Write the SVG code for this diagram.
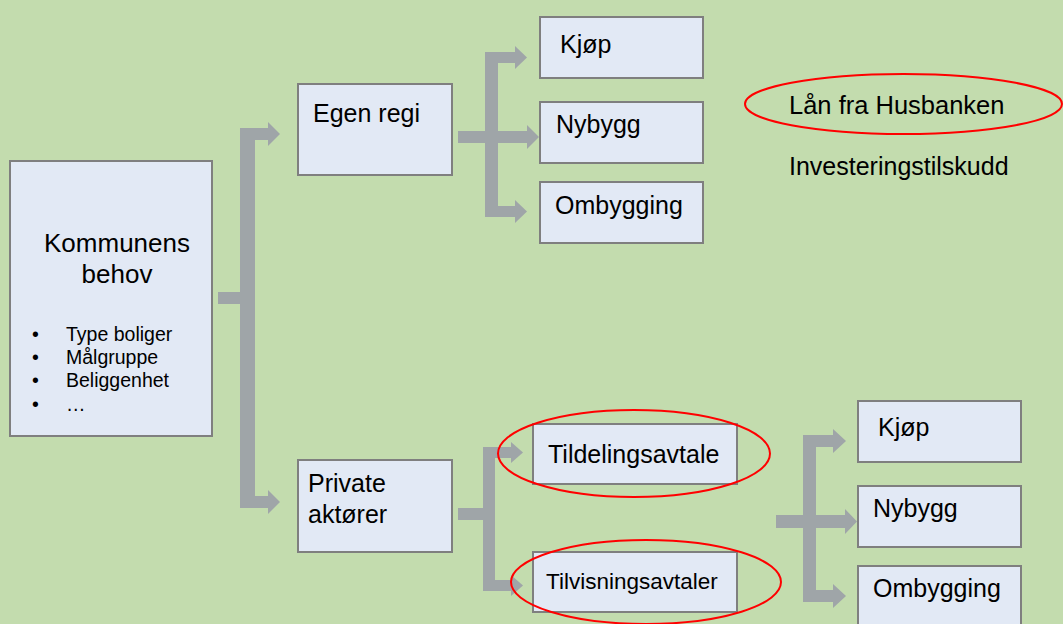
<svg xmlns="http://www.w3.org/2000/svg" width="1063" height="624" viewBox="0 0 1063 624">
  <style>
    .bg { fill: #c3dcae; }
    .box { fill: #e2e9f5; stroke: #7f7f7f; stroke-width: 2; }
    .t { font-family: "Liberation Sans", Arial, sans-serif; fill: #000000; }
    .big { font-size: 25px; }
    .small { font-size: 19.5px; }
    .conn { fill: #9fa5a8; stroke: none; }
    .ring { fill: none; stroke: #ff0000; stroke-width: 2; }
  </style>
  <rect class="bg" x="0" y="0" width="1063" height="624"/>

  <g id="connectors">
    <!-- main -->
    <rect class="conn" x="218" y="292" width="23" height="12"/>
    <rect class="conn" x="240" y="128" width="15" height="380"/>
    <rect class="conn" x="254" y="128" width="15" height="12"/>
    <polygon class="conn" points="268,122 280,134 268,146"/>
    <rect class="conn" x="254" y="496" width="15" height="12"/>
    <polygon class="conn" points="268,490 280,502 268,514"/>
    <!-- egen regi -->
    <rect class="conn" x="458" y="131" width="28" height="12"/>
    <rect class="conn" x="485" y="52" width="13" height="165"/>
    <rect class="conn" x="497" y="52" width="19" height="11"/>
    <polygon class="conn" points="515,46 527,57.5 515,69"/>
    <rect class="conn" x="497" y="131" width="31" height="12"/>
    <polygon class="conn" points="527,125 539,137 527,149"/>
    <rect class="conn" x="497" y="206" width="19" height="11"/>
    <polygon class="conn" points="515,200 527,211.5 515,223"/>
    <!-- private -->
    <rect class="conn" x="458" y="508" width="26" height="12"/>
    <rect class="conn" x="483" y="447" width="12" height="144"/>
    <rect class="conn" x="494" y="447" width="18" height="11"/>
    <polygon class="conn" points="511,442 523,452.5 511,463"/>
    <rect class="conn" x="494" y="580" width="18" height="11"/>
    <polygon class="conn" points="511,575 523,585.5 511,596"/>
    <!-- lower right -->
    <rect class="conn" x="776" y="515" width="28" height="13"/>
    <rect class="conn" x="803" y="435" width="13" height="167"/>
    <rect class="conn" x="815" y="435" width="19" height="12"/>
    <polygon class="conn" points="833,429 846,441 833,453"/>
    <rect class="conn" x="815" y="515" width="31" height="13"/>
    <polygon class="conn" points="845,509 857,521.5 845,534"/>
    <rect class="conn" x="815" y="590" width="19" height="12"/>
    <polygon class="conn" points="833,584 846,596 833,608"/>
  </g>

  <g id="kommunens">
    <rect class="box" x="10" y="161" width="202" height="275"/>
    <text class="t big" x="117" y="252" text-anchor="middle" style="font-size:26px">Kommunens</text>
    <text class="t big" x="117" y="283" text-anchor="middle" style="font-size:26px">behov</text>
    <text class="t small" x="32" y="341">•</text>
    <text class="t small" x="66" y="341">Type boliger</text>
    <text class="t small" x="32" y="364">•</text>
    <text class="t small" x="66" y="364">Målgruppe</text>
    <text class="t small" x="32" y="387">•</text>
    <text class="t small" x="66" y="387">Beliggenhet</text>
    <text class="t small" x="32" y="411">•</text>
    <text class="t small" x="66" y="411">…</text>
  </g>

  <g id="egen-regi">
    <rect class="box" x="298" y="84" width="154" height="91"/>
    <text class="t big" x="313" y="122">Egen regi</text>
  </g>

  <g id="private">
    <rect class="box" x="298" y="460" width="154" height="92"/>
    <text class="t big" x="308" y="492">Private</text>
    <text class="t big" x="308" y="523">aktører</text>
  </g>

  <g id="kjop1">
    <rect class="box" x="540" y="17" width="163" height="61"/>
    <text class="t big" x="560" y="53">Kjøp</text>
  </g>
  <g id="nybygg1">
    <rect class="box" x="540" y="102" width="163" height="61"/>
    <text class="t big" x="556" y="133">Nybygg</text>
  </g>
  <g id="ombygging1">
    <rect class="box" x="540" y="182" width="163" height="61"/>
    <text class="t big" x="555" y="214">Ombygging</text>
  </g>

  <g id="husbanken">
    <ellipse class="ring" cx="903.5" cy="104" rx="158.5" ry="30"/>
    <text class="t big" x="789" y="114" style="font-size:25.5px">Lån fra Husbanken</text>
  </g>
  <g id="investeringstilskudd">
    <text class="t big" x="789" y="175">Investeringstilskudd</text>
  </g>

  <g id="tildelingsavtale">
    <rect class="box" x="533" y="424" width="204" height="60"/>
    <text class="t big" x="548" y="463">Tildelingsavtale</text>
    <ellipse class="ring" cx="634" cy="453.5" rx="136" ry="43.5"/>
  </g>
  <g id="tilvisningsavtaler">
    <rect class="box" x="533" y="552" width="204" height="60"/>
    <text class="t big" x="546" y="589" style="font-size:22.5px">Tilvisningsavtaler</text>
    <ellipse class="ring" cx="646" cy="582" rx="135" ry="42"/>
  </g>

  <g id="kjop2">
    <rect class="box" x="858" y="401" width="163" height="61"/>
    <text class="t big" x="878" y="436">Kjøp</text>
  </g>
  <g id="nybygg2">
    <rect class="box" x="858" y="486" width="163" height="61"/>
    <text class="t big" x="873" y="517">Nybygg</text>
  </g>
  <g id="ombygging2">
    <rect class="box" x="858" y="566" width="163" height="70"/>
    <text class="t big" x="873" y="597">Ombygging</text>
  </g>
</svg>
